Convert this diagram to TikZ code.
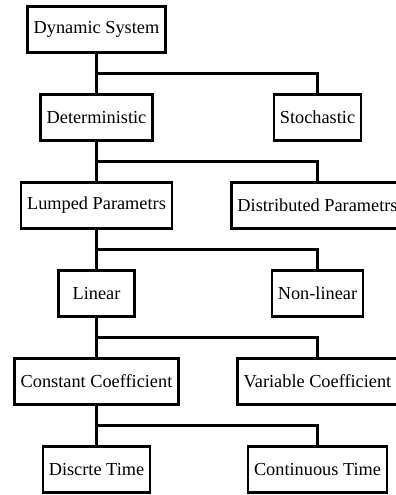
\documentclass[tikz,border=0pt]{standalone}
\usepackage{fontspec}
\setmainfont{Liberation Serif}
\usetikzlibrary{positioning}

\tikzset{block/.style={draw, line width=2.5pt, minimum width=76pt, minimum height=46pt,
    inner xsep=6pt, font=\fontsize{18.3}{22}\selectfont}}

\begin{document}
\begin{tikzpicture}[node distance=88pt and 221pt,on grid,line width=2.5pt]
        \useasboundingbox (0,0) rectangle (396pt,-495pt);

        \node[block]    (dyn)                           at (96.5pt,-29.5pt) {Dynamic System};
        \node[block]    (det)       [below=of dyn]      {Deterministic};
        \node[block]    (sto)       [right=of det]      {Stochastic};
        \node[block]    (lump)      [below=of det]      {Lumped Parametrs};
        \node[block]    (dist)      [right=of lump]     {Distributed Parametrs};
        \node[block]    (lin)       [below=of lump]     {Linear};
        \node[block]    (nonlin)    [right=of lin]      {Non-linear};
        \node[block]    (const)     [below=of lin]      {Constant Coefficient};
        \node[block]    (var)       [right=of const]    {Variable Coefficient};
        \node[block]    (disc)      [below=of const]    {Discrte Time};
        \node[block]    (cont)      [right=of disc]     {Continuous Time};

        \foreach \a/\b/\c in {dyn/det/sto, det/lump/dist, lump/lin/nonlin, lin/const/var, const/disc/cont} {
            \draw (\a) -- (\b);
            \path (\a.south) -- (\b.north) coordinate[midway] (\a-fork);
            \draw (\a-fork) -| (\c.north);
        }
    \end{tikzpicture}
\end{document}
